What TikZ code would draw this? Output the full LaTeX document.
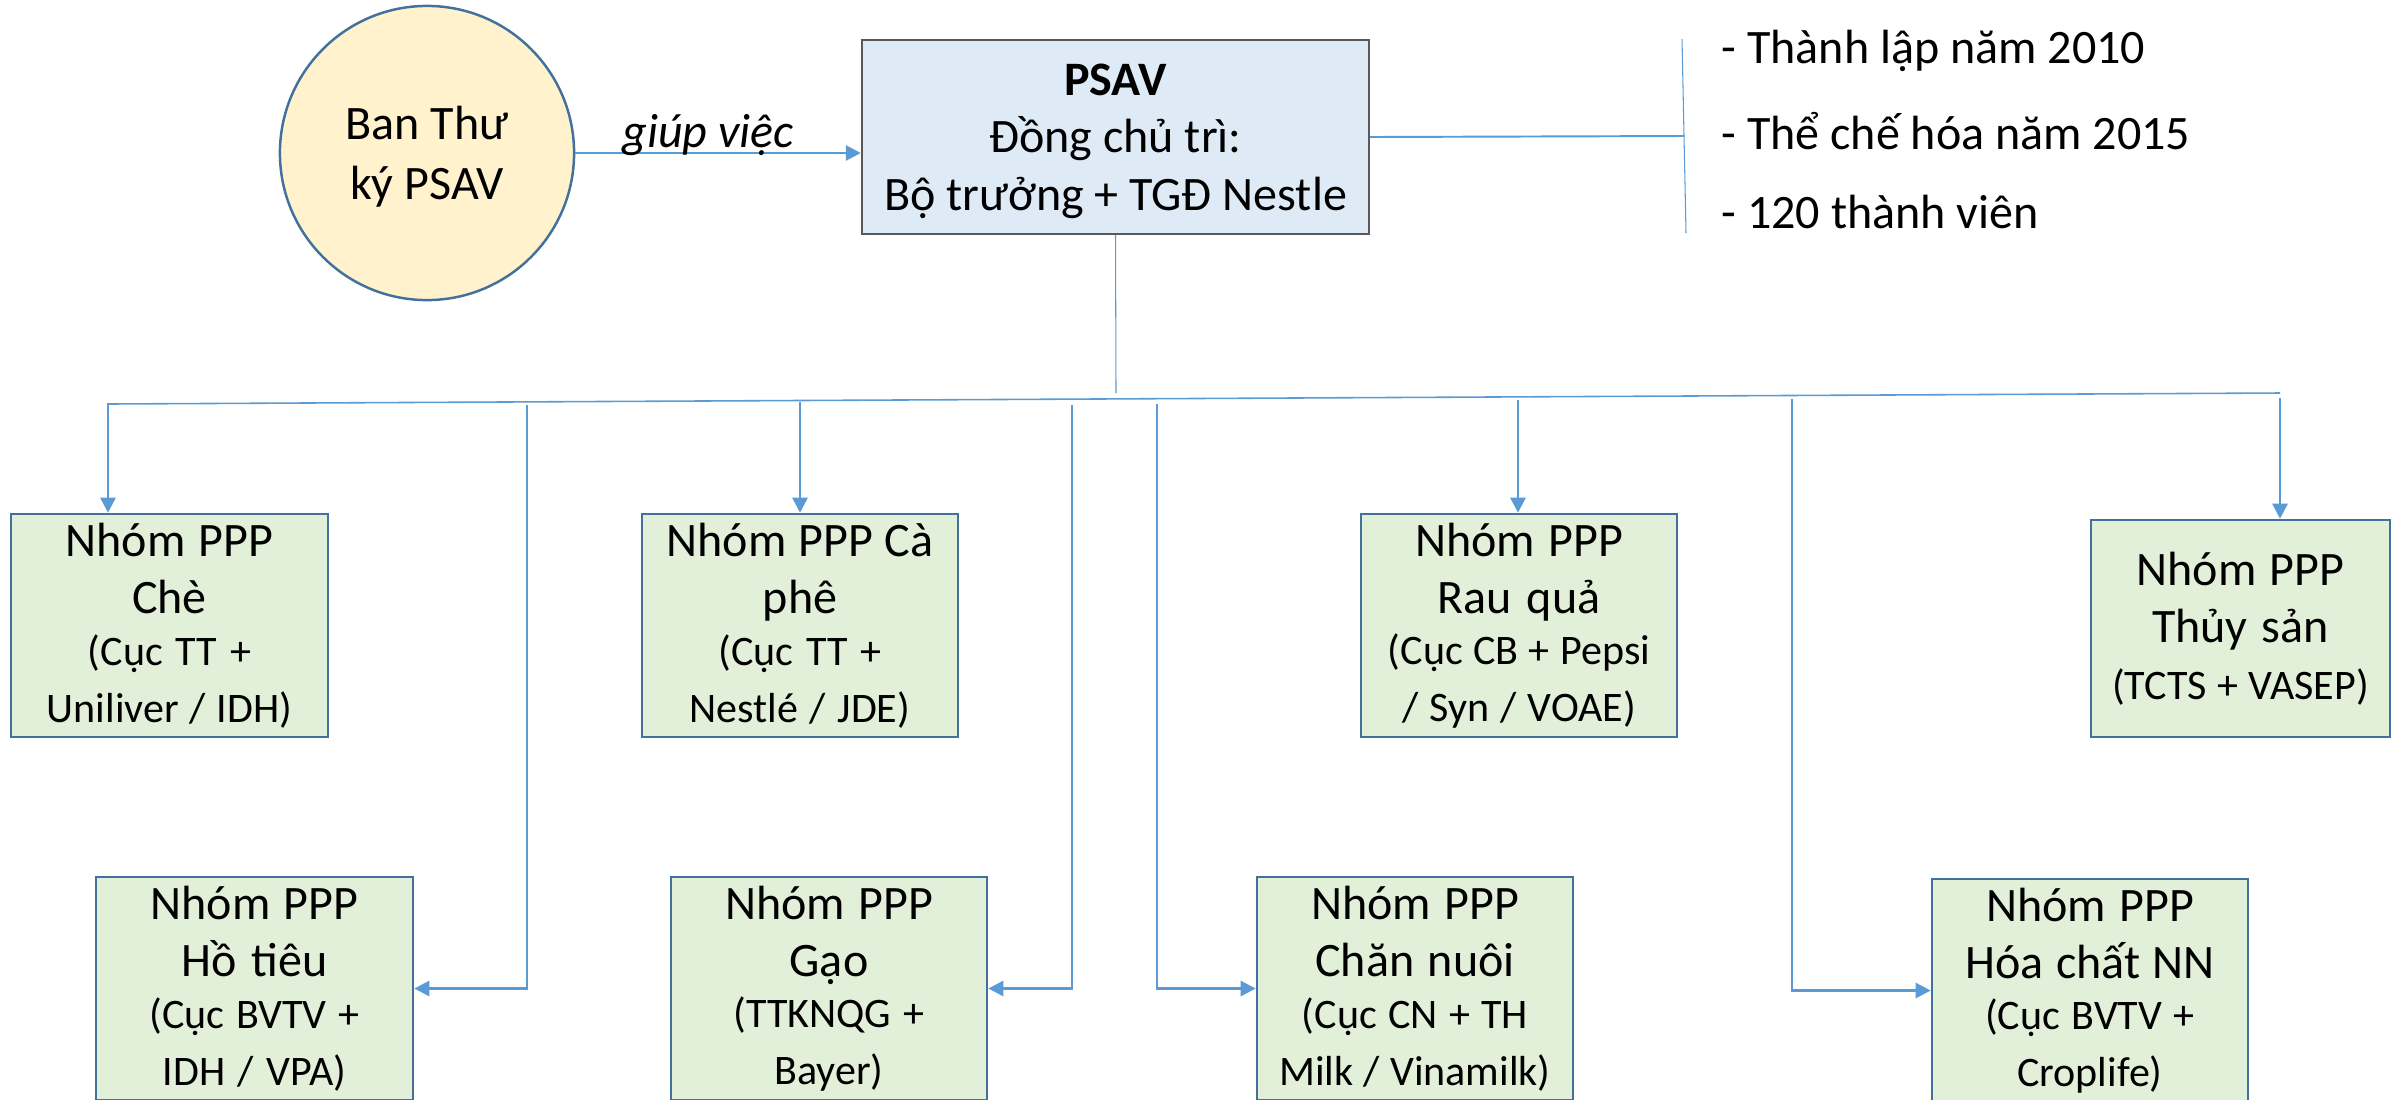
\documentclass[tikz,border=0pt]{standalone}
\usepackage{fontspec}
\setmainfont{Carlito}
\usetikzlibrary{arrows.meta}
\definecolor{conn}{HTML}{5B9BD5}
\definecolor{bordb}{HTML}{41719C}
\definecolor{pppfill}{HTML}{E2F0D9}
\definecolor{psavfill}{HTML}{DEEBF7}
\definecolor{psavborder}{HTML}{595959}
\definecolor{circfill}{HTML}{FFF2CC}
\newcommand\tfont{\fontsize{13.66}{16.2}\selectfont}
\newcommand\pfont{\fontsize{11.95}{14.65}\selectfont}
\newcommand\nsp{\spaceskip=0pt\xspaceskip=0pt\relax}
\begin{document}
\begin{tikzpicture}[x=0.01cm,y=-0.01cm,
  pppbox/.style={draw=bordb,line width=0.7pt,fill=pppfill,inner sep=0pt,
    text width=3.0cm,align=center,minimum width=3.17cm,minimum height=2.23cm,
    font=\tfont},
  arrowline/.style={draw=conn,line width=0.75pt,-{Triangle[length=0.15cm,width=0.15cm]}},
  busline/.style={draw=conn,line width=0.45pt},
  hairline/.style={draw=conn,line width=0.3pt},
  sideline/.style={draw=conn,line width=0.55pt},
  infotext/.style={anchor=base west,inner sep=0pt,font=\fontsize{13.66}{16.2}\selectfont}]
\useasboundingbox (0,0) rectangle (2400,1099);
\clip (0,0) rectangle (2400,1099);
\fill[white] (0,0) rectangle (2400,1099);

% top nodes
\node[circle,draw=bordb,line width=0.7pt,fill=circfill,minimum size=2.94cm,inner sep=0pt,
  align=center,text depth=0pt,font=\fontsize{13.66}{17}\selectfont] (ban) at (427,153) {Ban Thư\\ký PSAV};
\node[rectangle,draw=psavborder,line width=0.6pt,fill=psavfill,minimum width=5.07cm,minimum height=1.94cm,
  inner sep=0pt,align=center,text depth=0pt,font=\fontsize{13.66}{16.4}\selectfont] (psav) at (1115.5,137)
  {\bfseries PSAV\\Đồng chủ trì:\\Bộ trưởng + TGĐ Nestle};

% info text
\node[infotext] (info1) at (1721,63) {- Thành lập năm 2010};
\node[infotext] (info2) at (1721,149) {- Thể chế hóa năm 2015};
\node[infotext] (info3) at (1721,228) {- 120 thành viên};

% PPP groups, top row
\node[pppbox] (che) at (169.5,625.5) {\nsp Nhóm PPP\\Chè\par\pfont\nsp (Cục TT +\\Uniliver / IDH)};
\node[pppbox,minimum width=3.16cm] (caphe) at (800,625.5) {\nsp Nhóm PPP Cà\\phê\par\pfont\nsp (Cục TT +\\Nestlé / JDE)};
\node[pppbox,minimum width=3.16cm] (rauqua) at (1519,625.5) {\nsp Nhóm PPP\\Rau quả\par\pfont\nsp (Cục CB + Pepsi\\/ Syn / VOAE)};
\node[pppbox,text width=2.9cm,minimum width=2.99cm,minimum height=2.17cm] (thuysan) at (2240.5,628.5) {\nsp Nhóm PPP\\Thủy sản\par\pfont\nsp (TCTS + VASEP)};

% PPP groups, bottom row
\node[pppbox] (hotieu) at (254.5,988.5) {\nsp Nhóm PPP\\Hồ tiêu\par\pfont\nsp (Cục BVTV +\\IDH / VPA)};
\node[pppbox,minimum width=3.16cm] (gao) at (829,988.5) {\nsp Nhóm PPP\\Gạo\par\pfont\nsp (TTKNQG +\\Bayer)};
\node[pppbox,minimum width=3.16cm] (channuoi) at (1415,988.5) {\nsp Nhóm PPP\\Chăn nuôi\par\pfont\nsp (Cục CN + TH\\Milk / Vinamilk)};
\node[pppbox,minimum width=3.16cm] (hoachat) at (2090,990.5) {\nsp Nhóm PPP\\Hóa chất NN\par\pfont\nsp (Cục BVTV +\\Croplife)};

% secretariat arrow
\draw[arrowline] (ban.east) -- node[pos=0.465,anchor=base,yshift=0.06cm,inner sep=0pt,
  font=\fontsize{13.66}{16.2}\selectfont\itshape] (lbl) {giúp việc} (ban.east -| psav.west);

% side bracket
\coordinate (brT) at (1682,39);
\coordinate (brB) at (1686,233);
\coordinate (brM) at (1684,136);
\draw[hairline] (brT) -- (brB);
\draw[sideline] (psav.east) -- (brM);

% trunk and bus
\coordinate (trunk) at (1116,393);
\coordinate (busL) at (107,404);
\coordinate (busR) at (2280,393);
\draw[hairline] (psav.south) -- (trunk);
\draw[busline] (busL) -- (busR);

% drops
\coordinate (dChe) at (108,404);
\coordinate (dCaphe) at (800,402);
\coordinate (dRau) at (1518,400);
\coordinate (dThuy) at (2280,398);
\coordinate (dHo) at (527,405);
\coordinate (dGao) at (1072,405);
\coordinate (dChan) at (1157,404);
\coordinate (dHoa) at (1792,399);
\draw[arrowline] (dChe) -- (dChe |- che.north);
\draw[arrowline] (dCaphe) -- (dCaphe |- caphe.north);
\draw[arrowline] (dRau) -- (dRau |- rauqua.north);
\draw[arrowline] (dThuy) -- (dThuy |- thuysan.north);
\draw[arrowline] (dHo) |- (hotieu.east);
\draw[arrowline] (dGao) |- (gao.east);
\draw[arrowline] (dChan) |- (channuoi.west);
\draw[arrowline] (dHoa) |- (hoachat.west);
\end{tikzpicture}
\end{document}
